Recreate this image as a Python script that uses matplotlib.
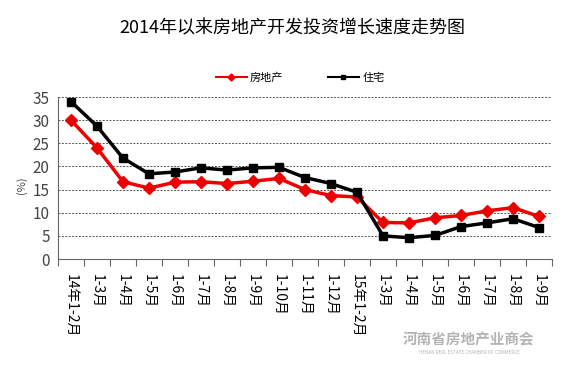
import numpy as np
import matplotlib
matplotlib.use("Agg")
import matplotlib.pyplot as plt

plt.rcParams['font.family'] = ['Noto Sans CJK SC', 'DejaVu Sans']

months = ['14年1-2月', '1-3月', '1-4月', '1-5月', '1-6月', '1-7月', '1-8月', '1-9月',
          '1-10月', '1-11月', '1-12月', '15年1-2月', '1-3月', '1-4月', '1-5月',
          '1-6月', '1-7月', '1-8月', '1-9月']
fdc = [30.0, 24.0, 16.7, 15.3, 16.6, 16.7, 16.3, 16.8, 17.4, 15.0, 13.7, 13.4,
       7.9, 7.8, 8.9, 9.4, 10.4, 11.1, 9.2]
zz = [34.0, 28.7, 21.8, 18.4, 18.8, 19.7, 19.2, 19.7, 19.8, 17.6, 16.3, 14.4,
      5.0, 4.6, 5.1, 7.0, 7.8, 8.7, 6.8]

x = np.arange(len(months))

fig = plt.figure(figsize=(5.84, 3.80), dpi=100)
ax = fig.add_axes([58/584, 1-259/380, 494/584, 162/380])

ax.plot(x, fdc, color='#ee0000', lw=2.5, marker='D', ms=6, label='房地产', zorder=3)
ax.plot(x, zz, color='black', lw=2.5, marker='s', ms=6, label='住宅', zorder=3)

ax.set_xlim(-0.5, len(months)-0.5)
ax.set_ylim(0, 35)
ax.set_yticks(range(0, 36, 5))
ax.yaxis.grid(True, color='#555555', ls=(0, (2, 1.5)), lw=0.7)
ax.set_axisbelow(True)
for s in ['top', 'right']:
    ax.spines[s].set_visible(False)
ax.spines['left'].set_color('#666666')
ax.spines['bottom'].set_color('#666666')

ax.set_xticks(np.arange(len(months)+1) - 0.5, minor=False)
ax.set_xticklabels([])
ax.tick_params(axis='x', length=5, color='#666666', direction='out')
ax.set_xticks(x, minor=True)
ax.set_xticklabels(months, minor=True, rotation=-90, fontsize=10, va='top', ha='center')
ax.tick_params(axis='x', which='minor', length=0, pad=11)
ax.tick_params(axis='y', length=0, labelsize=11, labelcolor='#444444', pad=6)

fig.text(22/584, 1-185/380, '(%)', rotation=90, fontsize=8, ha='center', va='center', color='#444444')
fig.text(0.5, 1-28/380, '2014年以来房地产开发投资增长速度走势图', fontsize=13, ha='center', va='center')

leg = ax.legend(loc='center', bbox_to_anchor=(300/584, 1-78/380), bbox_transform=fig.transFigure,
                ncol=2, frameon=False, fontsize=8, handlelength=2.8, markerscale=0.6,
                columnspacing=4, handletextpad=0.3)
for h in leg.get_lines():
    h.set_linewidth(1.5)

fig.text(469/584, 1-339/380, '河南省房地产业商会', fontsize=10.5, color='#b4b4b4',
         ha='center', va='center', fontweight='bold')
fig.text(469/584, 1-352/380, 'HENAN REAL ESTATE CHAMBER OF COMMERCE', fontsize=3.3,
         color='#b4b4b4', ha='center', va='center')

fig.savefig('out.png', dpi=100)
